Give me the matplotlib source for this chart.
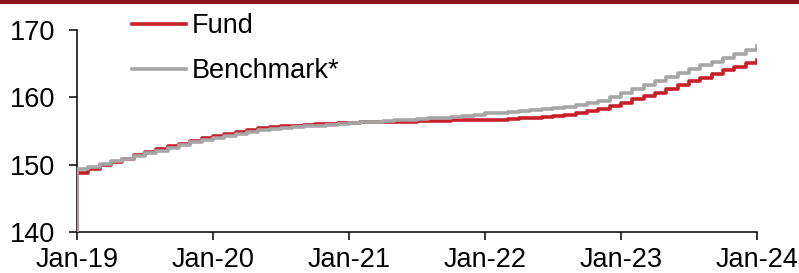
import matplotlib
matplotlib.use("Agg")
import matplotlib.pyplot as plt
from matplotlib.patches import Rectangle

plt.rcParams['font.family'] = ['Liberation Sans', 'DejaVu Sans']

# monthly index values, Jan-19 .. Jan-24 (61 points)
fund = [148.7, 149.3, 149.9, 150.4, 150.9, 151.4, 151.9, 152.3, 152.7, 153.1, 153.5, 153.9, 154.3,
        154.6, 154.9, 155.2, 155.4, 155.6, 155.7, 155.8, 155.9, 156.0, 156.1, 156.2, 156.2,
        156.3, 156.3, 156.4, 156.4, 156.4, 156.5, 156.5, 156.5, 156.6, 156.6, 156.6, 156.7,
        156.7, 156.8, 156.9, 157.0, 157.1, 157.2, 157.4, 157.6, 157.9, 158.3, 158.7, 159.2,
        159.7, 160.2, 160.7, 161.2, 161.8, 162.4, 162.9, 163.5, 164.0, 164.5, 165.1, 165.6]
benchmark = [149.4, 149.6, 150.1, 150.5, 150.9, 151.3, 151.7, 152.1, 152.5, 152.9, 153.3, 153.7, 154.0,
             154.3, 154.6, 154.9, 155.1, 155.3, 155.5, 155.6, 155.7, 155.8, 155.9, 156.0, 156.2,
             156.3, 156.4, 156.5, 156.6, 156.7, 156.8, 156.9, 157.0, 157.1, 157.2, 157.4, 157.6,
             157.7, 157.8, 157.9, 158.1, 158.2, 158.4, 158.6, 158.8, 159.1, 159.5, 160.0, 160.6,
             161.2, 161.8, 162.4, 163.0, 163.6, 164.2, 164.8, 165.3, 165.9, 166.4, 167.0, 167.6]
start_value = 140  # both series start at the axis floor
tick_labels = ["Jan-19", "Jan-20", "Jan-21", "Jan-22", "Jan-23", "Jan-24"]

months = list(range(len(fund)))

fig = plt.figure(figsize=(7.99, 2.73), dpi=100)
ax = fig.add_axes([77/799, 1 - 232/273, (757 - 77)/799, (232 - 30)/273])

# dark red band along the top edge
fig.add_artist(Rectangle((0, 1 - 4/273), 1, 4/273, transform=fig.transFigure,
                         color='#8B1416', lw=0))

ax.plot([0] + months, [start_value] + fund, drawstyle='steps-post',
        color='#C8202A', lw=2.6, label='Fund', zorder=3)
ax.plot([0] + months, [start_value] + benchmark, drawstyle='steps-post',
        color='#A6A6A6', lw=2.6, label='Benchmark*', zorder=4)

ax.set_xlim(0, 60)
ax.set_ylim(140, 170)
ax.set_yticks([140, 150, 160, 170])
ax.set_xticks(range(0, 61, 12))
ax.set_xticklabels(tick_labels)

for s in ['top', 'right']:
    ax.spines[s].set_visible(False)
for s in ['left', 'bottom']:
    ax.spines[s].set_linewidth(1.1)
ax.tick_params(axis='both', direction='out', length=6, width=1.1, labelsize=19.5)
ax.tick_params(axis='y', pad=10)
ax.tick_params(axis='x', pad=5)

ax.legend(loc='upper left', bbox_to_anchor=(132/799, 1 - 13/273), bbox_transform=fig.transFigure,
          frameon=False, fontsize=19.5, handlelength=2.0, handletextpad=0.2,
          labelspacing=0.72, borderpad=0, borderaxespad=0)

fig.savefig("out.png", dpi=100)
